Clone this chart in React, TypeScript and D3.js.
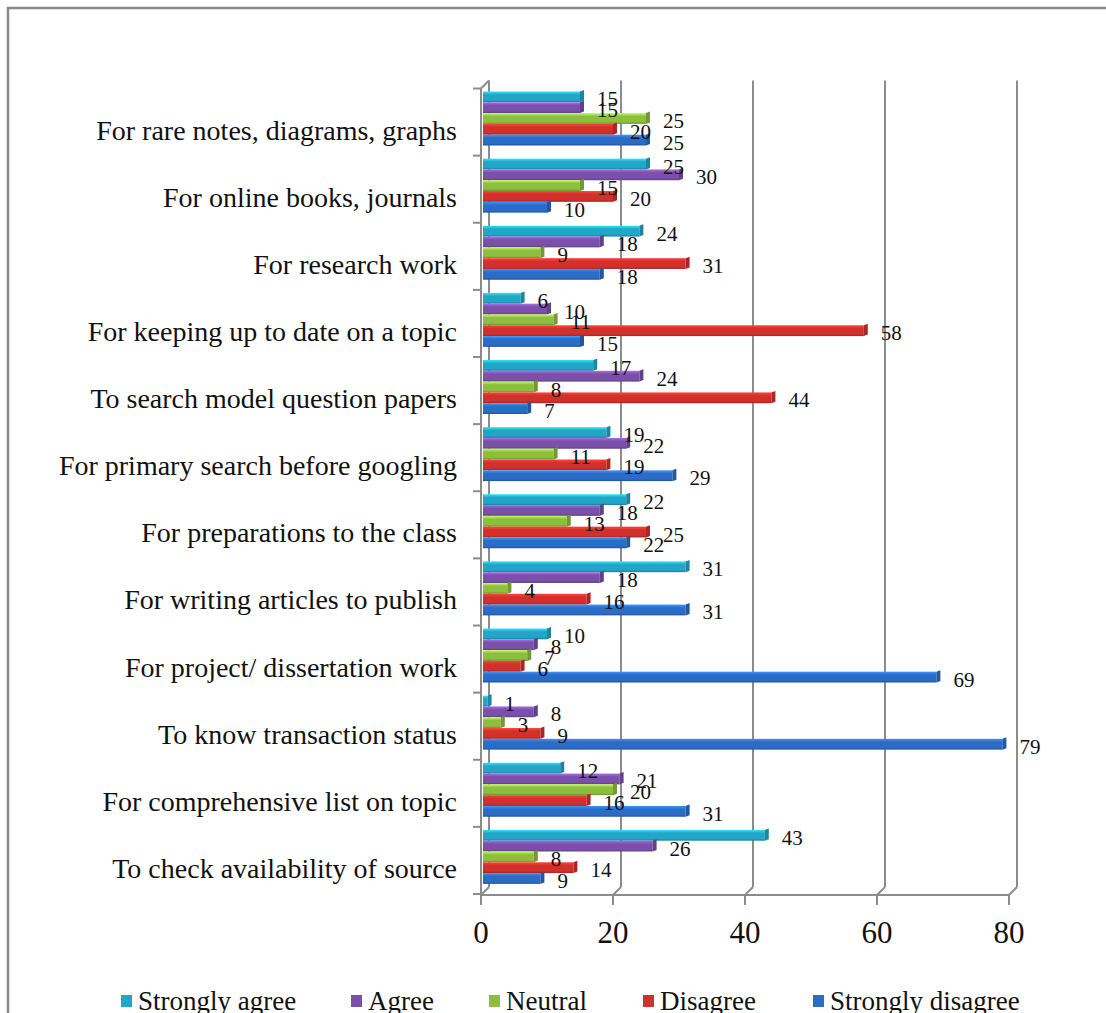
import React from 'react';
import * as d3 from 'd3';

const categories = [
  'For rare notes, diagrams, graphs',
  'For online books, journals',
  'For research work',
  'For keeping up to date on a topic',
  'To search model question papers',
  'For primary search before googling',
  'For preparations to the class',
  'For writing articles to publish',
  'For project/ dissertation work',
  'To know transaction status',
  'For comprehensive list on topic',
  'To check availability of source',
];
const seriesNames = ['Strongly agree', 'Agree', 'Neutral', 'Disagree', 'Strongly disagree'];
const stronglyAgree = [15, 25, 24, 6, 17, 19, 22, 31, 10, 1, 12, 43];
const agree = [15, 30, 18, 10, 24, 22, 18, 18, 8, 8, 21, 26];
const neutral = [25, 15, 9, 11, 8, 11, 13, 4, 7, 3, 20, 8];
const disagree = [20, 20, 31, 58, 44, 19, 25, 16, 6, 9, 16, 14];
const stronglyDisagree = [25, 10, 18, 15, 7, 29, 22, 31, 69, 79, 31, 9];
const xTicks = [0, 20, 40, 60, 80];
const seriesColors = ['#22A6C8', '#7B50AA', '#8DBE3F', '#D2312B', '#2B6CC6'];
const seriesValues = [stronglyAgree, agree, neutral, disagree, stronglyDisagree];

const W = 1106;
const H = 1013;
const FONT =
  "'Liberation Serif', 'LiberationSerif', 'Tinos', 'Times New Roman', 'Times', 'Nimbus Roman', 'Nimbus Roman No9 L', 'FreeSerif', 'DejaVu Serif', 'Noto Serif', serif";
const DX = 8;
const DY = -8;
const GRID = '#8c8c8c';
const txt = (size: number) => ({ fontFamily: FONT, fontSize: `${size}px` });

export default function App() {
  const x = d3.scaleLinear().domain([0, 80]).range([481, 1009]);
  const yBand = d3.scaleBand<string>().domain(categories).range([88.5, 894]);
  const ySub = d3.scaleBand<string>().domain(seriesNames).range([3, 57]);
  const bh = ySub.bandwidth();
  const top = yBand.range()[0];
  const bottom = 895;
  const legendX = [121, 351, 489, 643, 813];

  return (
    <svg width={W} height={H} style={{ position: 'absolute', left: 0, top: 0, display: 'block', background: '#fff' }}>
      <defs>
        {seriesColors.map((c, i) => {
          const col = d3.color(c)!;
          return (
            <linearGradient key={i} id={`g${i}`} x1="0" y1="0" x2="0" y2="1">
              <stop offset="0" stopColor={col.brighter(0.9).formatHex()} />
              <stop offset="0.3" stopColor={c} />
              <stop offset="0.8" stopColor={c} />
              <stop offset="1" stopColor={col.darker(0.7).formatHex()} />
            </linearGradient>
          );
        })}
      </defs>
      {/* outer frame */}
      <path d={`M8,${H} L8,8 L${W},8`} fill="none" stroke="#8a8a8a" strokeWidth={2.5} />

      {/* back wall gridlines */}
      {xTicks.map((t) => (
        <g key={`gr${t}`}>
          <line x1={x(t) + DX} x2={x(t) + DX} y1={top + DY} y2={bottom + DY} stroke={GRID} strokeWidth={2} />
          <line x1={x(t)} x2={x(t) + DX} y1={bottom} y2={bottom + DY} stroke={GRID} strokeWidth={2} />
          <line x1={x(t)} x2={x(t)} y1={bottom} y2={bottom + 10} stroke={GRID} strokeWidth={2} />
          <text x={x(t)} y={943} textAnchor="middle" style={txt(31)} fill="#111">{t}</text>
        </g>
      ))}
      {/* left side wall */}
      <line x1={x(0)} x2={x(0)} y1={top} y2={bottom} stroke={GRID} strokeWidth={2} />
      <line x1={x(0)} x2={x(0) + DX} y1={top} y2={top + DY} stroke={GRID} strokeWidth={2} />
      {/* floor front edge */}
      <line x1={x(0)} x2={x(80)} y1={bottom} y2={bottom} stroke={GRID} strokeWidth={2} />
      {/* category ticks */}
      {d3.range(categories.length + 1).map((k) => {
        const yy = top + yBand.step() * k;
        return <line key={`ct${k}`} x1={x(0) - 8} x2={x(0)} y1={yy} y2={yy} stroke={GRID} strokeWidth={2} />;
      })}

      {/* bars */}
      {categories.map((cat, ci) => (
        <g key={`c${ci}`}>
          {seriesNames.map((s, si) => {
            const v = seriesValues[si][ci];
            const y = (yBand(cat) as number) + (ySub(s) as number);
            const x0 = x(0) + 2;
            const x1 = x(v);
            const dark = d3.color(seriesColors[si])!.darker(0.6).formatHex();
            return (
              <g key={`b${si}`}>
                <rect x={x0} y={y} width={Math.max(0, x1 - x0)} height={bh} fill={`url(#g${si})`} />
                <polygon
                  points={`${x1},${y} ${x1 + 4},${y - 1.5} ${x1 + 4},${y + bh - 1.5} ${x1},${y + bh}`}
                  fill={dark}
                />
              </g>
            );
          })}
        </g>
      ))}

      {/* value labels */}
      {categories.map((cat, ci) => (
        <g key={`l${ci}`}>
          {seriesNames.map((s, si) => {
            const v = seriesValues[si][ci];
            const y = (yBand(cat) as number) + (ySub(s) as number) + bh / 2;
            return (
              <text key={`t${si}`} x={x(v) + 17} y={y + 9.5} style={txt(21)} fill="#111">
                {v}
              </text>
            );
          })}
        </g>
      ))}

      {/* category labels */}
      {categories.map((cat) => (
        <text key={cat} x={457} y={(yBand(cat) as number) + 51} textAnchor="end" style={txt(28)} fill="#111">
          {cat}
        </text>
      ))}

      {/* legend */}
      {seriesNames.map((s, si) => (
        <g key={`lg${si}`}>
          <rect x={legendX[si]} y={995} width={11} height={12} fill={seriesColors[si]} />
          <text x={legendX[si] + 17} y={1010} style={txt(27)} fill="#111">{s}</text>
        </g>
      ))}
    </svg>
  );
}
